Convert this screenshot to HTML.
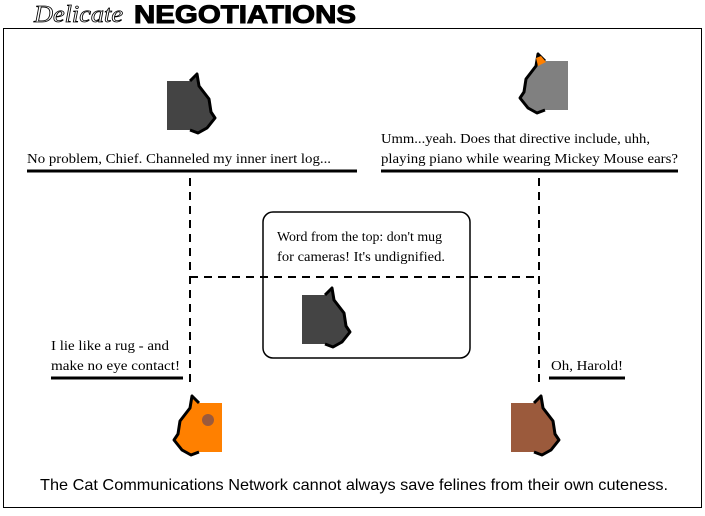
<!DOCTYPE html>
<html><head><style>
body{margin:0;background:#fff;}
svg text{font-family:"Liberation Serif",serif;font-size:14px;fill:#000;}
</style></head><body>
<svg width="705" height="511" xmlns="http://www.w3.org/2000/svg">
<defs>
<g id="cat">
<polygon points="0,7 23,7 30,0 32,12 42,25 44,38 48,44 40,54 31,59 23,56 0,56"/>
<polyline points="23,7 30,0 32,12 42,25 44,38 48,44 40,54 31,59 23,56" fill="none" stroke="#000" stroke-width="3" stroke-linejoin="round"/>
</g>
</defs>
<rect width="705" height="511" fill="#fff"/>
<text x="34" y="22" style="font-family:'Liberation Serif',serif;font-style:italic;font-size:24px;fill:#fff;stroke:#000;stroke-width:0.8" textLength="89" lengthAdjust="spacingAndGlyphs">Delicate</text>
<text x="134" y="23" style="font-family:'Liberation Sans',sans-serif;font-weight:bold;font-size:25px;stroke:#000;stroke-width:1" textLength="222" lengthAdjust="spacingAndGlyphs">NEGOTIATIONS</text>
<rect x="3.5" y="28.5" width="698" height="479" fill="none" stroke="#000" stroke-width="1"/>
<rect x="263" y="212" width="207" height="146" rx="10" fill="none" stroke="#000" stroke-width="1.5"/>
<g stroke="#000" stroke-width="2" stroke-dasharray="8,6" fill="none">
<line x1="190" y1="178" x2="190" y2="382"/>
<line x1="539" y1="178" x2="539" y2="382"/>
<line x1="190" y1="277" x2="539" y2="277"/>
</g>
<text x="277" y="241" textLength="165" lengthAdjust="spacingAndGlyphs">Word from the top: don't mug</text>
<text x="277" y="261" textLength="168" lengthAdjust="spacingAndGlyphs">for cameras! It's undignified.</text>
<g fill="#444"><use href="#cat" transform="translate(302,288)"/></g>
<g fill="#444"><use href="#cat" transform="translate(167,74)"/></g>
<g fill="#808080"><use href="#cat" transform="translate(568,54) scale(-1,1)"/></g>
<polygon points="536,58 541,56 546,62 538,66" fill="#ff8000"/>
<g fill="#ff8000"><use href="#cat" transform="translate(222,396) scale(-1,1)"/></g>
<ellipse cx="208" cy="420" rx="6" ry="6" fill="#9b5a3c"/>
<g fill="#9b5a3c"><use href="#cat" transform="translate(511,396)"/></g>
<text x="27" y="163" textLength="304" lengthAdjust="spacingAndGlyphs">No problem, Chief. Channeled my inner inert log...</text>
<line x1="27" y1="171" x2="357" y2="171" stroke="#000" stroke-width="3"/>
<text x="381" y="143" textLength="269" lengthAdjust="spacingAndGlyphs">Umm...yeah. Does that directive include, uhh,</text>
<text x="381" y="163" textLength="297" lengthAdjust="spacingAndGlyphs">playing piano while wearing Mickey Mouse ears?</text>
<line x1="381" y1="171" x2="678" y2="171" stroke="#000" stroke-width="3"/>
<text x="51" y="350" textLength="118" lengthAdjust="spacingAndGlyphs">I lie like a rug - and</text>
<text x="51" y="370" textLength="129" lengthAdjust="spacingAndGlyphs">make no eye contact!</text>
<line x1="51" y1="378" x2="183" y2="378" stroke="#000" stroke-width="3"/>
<text x="551" y="370" textLength="72" lengthAdjust="spacingAndGlyphs">Oh, Harold!</text>
<line x1="549" y1="378" x2="625" y2="378" stroke="#000" stroke-width="3"/>
<text x="40" y="490" style="font-family:'Liberation Sans',sans-serif;font-size:16px" textLength="628" lengthAdjust="spacingAndGlyphs">The Cat Communications Network cannot always save felines from their own cuteness.</text>
</svg>
</body></html>
